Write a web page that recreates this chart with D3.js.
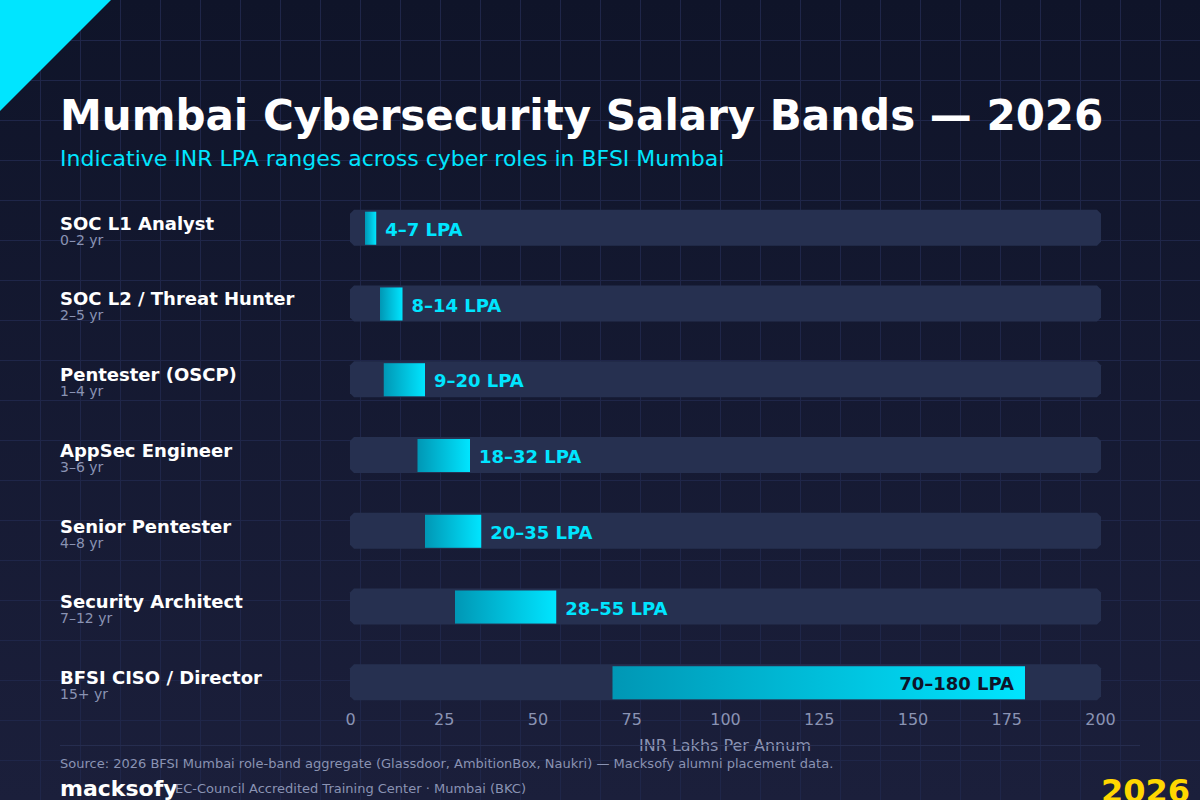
<!DOCTYPE html>
<html lang="en">
<head>
    <meta charset="UTF-8">
    <script src="https://d3js.org/d3.v7.min.js"></script>
    <style>
        body{ margin:0; background:#10152a; }
        text{ font-family:'DejaVu Sans', sans-serif; }
    </style>
    <title>Mumbai Cybersecurity Salary Bands</title>
</head>
<body>
    <div class="canvas"></div>
</body>
<script>
    // data
    const roles = ['SOC L1 Analyst','SOC L2 / Threat Hunter','Pentester (OSCP)','AppSec Engineer','Senior Pentester','Security Architect','BFSI CISO / Director'];
    const experience = ['0–2 yr','2–5 yr','1–4 yr','3–6 yr','4–8 yr','7–12 yr','15+ yr'];
    const minLPA = [4,8,9,18,20,28,70];
    const maxLPA = [7,14,20,32,35,55,180];
    const xTicks = [0,25,50,75,100,125,150,175,200];

    const width = 1200;
    const height = 800;
    const svg = d3.select('.canvas')
                    .append('svg')
                    .attr('width',width)
                    .attr('height',height);

    const defs = svg.append('defs');
    const bg = defs.append('linearGradient').attr('id','bg')
                    .attr('x1',0).attr('y1',0).attr('x2',0).attr('y2',1);
    bg.append('stop').attr('offset','0%').attr('stop-color','#0f1429');
    bg.append('stop').attr('offset','100%').attr('stop-color','#1b1f3b');

    const barGrad = defs.append('linearGradient').attr('id','bar')
                    .attr('x1',0).attr('y1',0).attr('x2',1).attr('y2',0);
    barGrad.append('stop').attr('offset','0%').attr('stop-color','#0097b5');
    barGrad.append('stop').attr('offset','100%').attr('stop-color','#00e5ff');

    svg.append('rect').attr('width',width).attr('height',height).attr('fill','url(#bg)');

    // background grid
    const gridG = svg.append('g').attr('stroke','#1f2649').attr('stroke-width',1);
    d3.range(40,width,40).forEach(v=>{
        gridG.append('line').attr('x1',v+0.5).attr('x2',v+0.5).attr('y1',0).attr('y2',height);
    });
    d3.range(40,height,40).forEach(v=>{
        gridG.append('line').attr('y1',v+0.5).attr('y2',v+0.5).attr('x1',0).attr('x2',width);
    });

    // corner accent
    svg.append('path').attr('d','M0,0 L111,0 L0,111 Z').attr('fill','#00e5ff');

    // headings
    svg.append('text').attr('x',60).attr('y',130)
        .text('Mumbai Cybersecurity Salary Bands — 2026')
        .attr('fill','#ffffff').style('font-size','42px').style('font-weight','bold');
    svg.append('text').attr('x',60).attr('y',166)
        .text('Indicative INR LPA ranges across cyber roles in BFSI Mumbai')
        .attr('fill','#00e5ff').style('font-size','22px');

    const x = d3.scaleLinear().domain([0,200]).range([350,1100]);
    const y = d3.scaleBand().domain(roles).range([170,740]).padding(0.524);

    const rows = roles.map((r,i)=>({role:r, exp:experience[i], lo:minLPA[i], hi:maxLPA[i]}));

    const chamfer = (x0,y0,w,h,c)=>`M${x0+c},${y0} L${x0+w-c},${y0} L${x0+w},${y0+c} L${x0+w},${y0+h-c} L${x0+w-c},${y0+h} L${x0+c},${y0+h} L${x0},${y0+h-c} L${x0},${y0+c} Z`;

    const row = svg.selectAll('g.row').data(rows).enter()
                    .append('g').attr('class','row');

    row.append('path')
        .attr('d',d=>chamfer(x(0),y(d.role),x(200)-x(0)+1,y.bandwidth(),4))
        .attr('fill','#263050');

    row.append('rect')
        .attr('x',d=>x(d.lo))
        .attr('y',d=>y(d.role)+2)
        .attr('width',d=>x(d.hi)-x(d.lo))
        .attr('height',y.bandwidth()-3)
        .attr('fill','url(#bar)');

    row.append('text')
        .attr('x',d=> d.hi > 150 ? x(d.hi)-11 : x(d.hi)+9)
        .attr('y',d=>y(d.role)+y.bandwidth()/2)
        .attr('dy','0.45em')
        .attr('text-anchor',d=> d.hi > 150 ? 'end' : 'start')
        .attr('fill',d=> d.hi > 150 ? '#0f1429' : '#00e5ff')
        .style('font-size','18px').style('font-weight','bold')
        .text(d=>`${d.lo}–${d.hi} LPA`);

    row.append('text')
        .attr('x',60)
        .attr('y',d=>y(d.role)+20)
        .attr('fill','#ffffff')
        .style('font-size','18px').style('font-weight','bold')
        .text(d=>d.role);

    row.append('text')
        .attr('x',60)
        .attr('y',d=>y(d.role)+35)
        .attr('fill','#8a93b3')
        .style('font-size','14px')
        .text(d=>d.exp);

    // x axis
    const xAxisG = svg.append('g').attr('transform','translate(0,708)');
    xAxisG.call(d3.axisBottom(x).tickValues(xTicks).tickSize(0).tickPadding(6));
    xAxisG.select('.domain').remove();
    xAxisG.selectAll('text')
        .attr('fill','#8a93b3')
        .style('font-size','16px')
        .style('font-family',"'DejaVu Sans', sans-serif");

    svg.append('text').attr('x',725).attr('y',751)
        .attr('text-anchor','middle')
        .attr('fill','#8a93b3').style('font-size','16px')
        .text('INR Lakhs Per Annum');

    // footer
    svg.append('line').attr('x1',60).attr('x2',1140).attr('y1',745.5).attr('y2',745.5)
        .attr('stroke','#262d4f').attr('stroke-width',1);
    svg.append('text').attr('x',60).attr('y',768)
        .attr('fill','#8a93b3').style('font-size','13px')
        .text('Source: 2026 BFSI Mumbai role-band aggregate (Glassdoor, AmbitionBox, Naukri) — Macksofy alumni placement data.');
    svg.append('text').attr('x',60).attr('y',796)
        .attr('fill','#ffffff').style('font-size','22px').style('font-weight','bold')
        .text('macksofy');
    svg.append('text').attr('x',175).attr('y',793)
        .attr('fill','#8a93b3').style('font-size','13px')
        .text('EC-Council Accredited Training Center · Mumbai (BKC)');
    svg.append('text').attr('x',1190).attr('y',802)
        .attr('text-anchor','end')
        .attr('fill','#ffd700').style('font-size','32px').style('font-weight','bold')
        .text('2026');
</script>
</html>
